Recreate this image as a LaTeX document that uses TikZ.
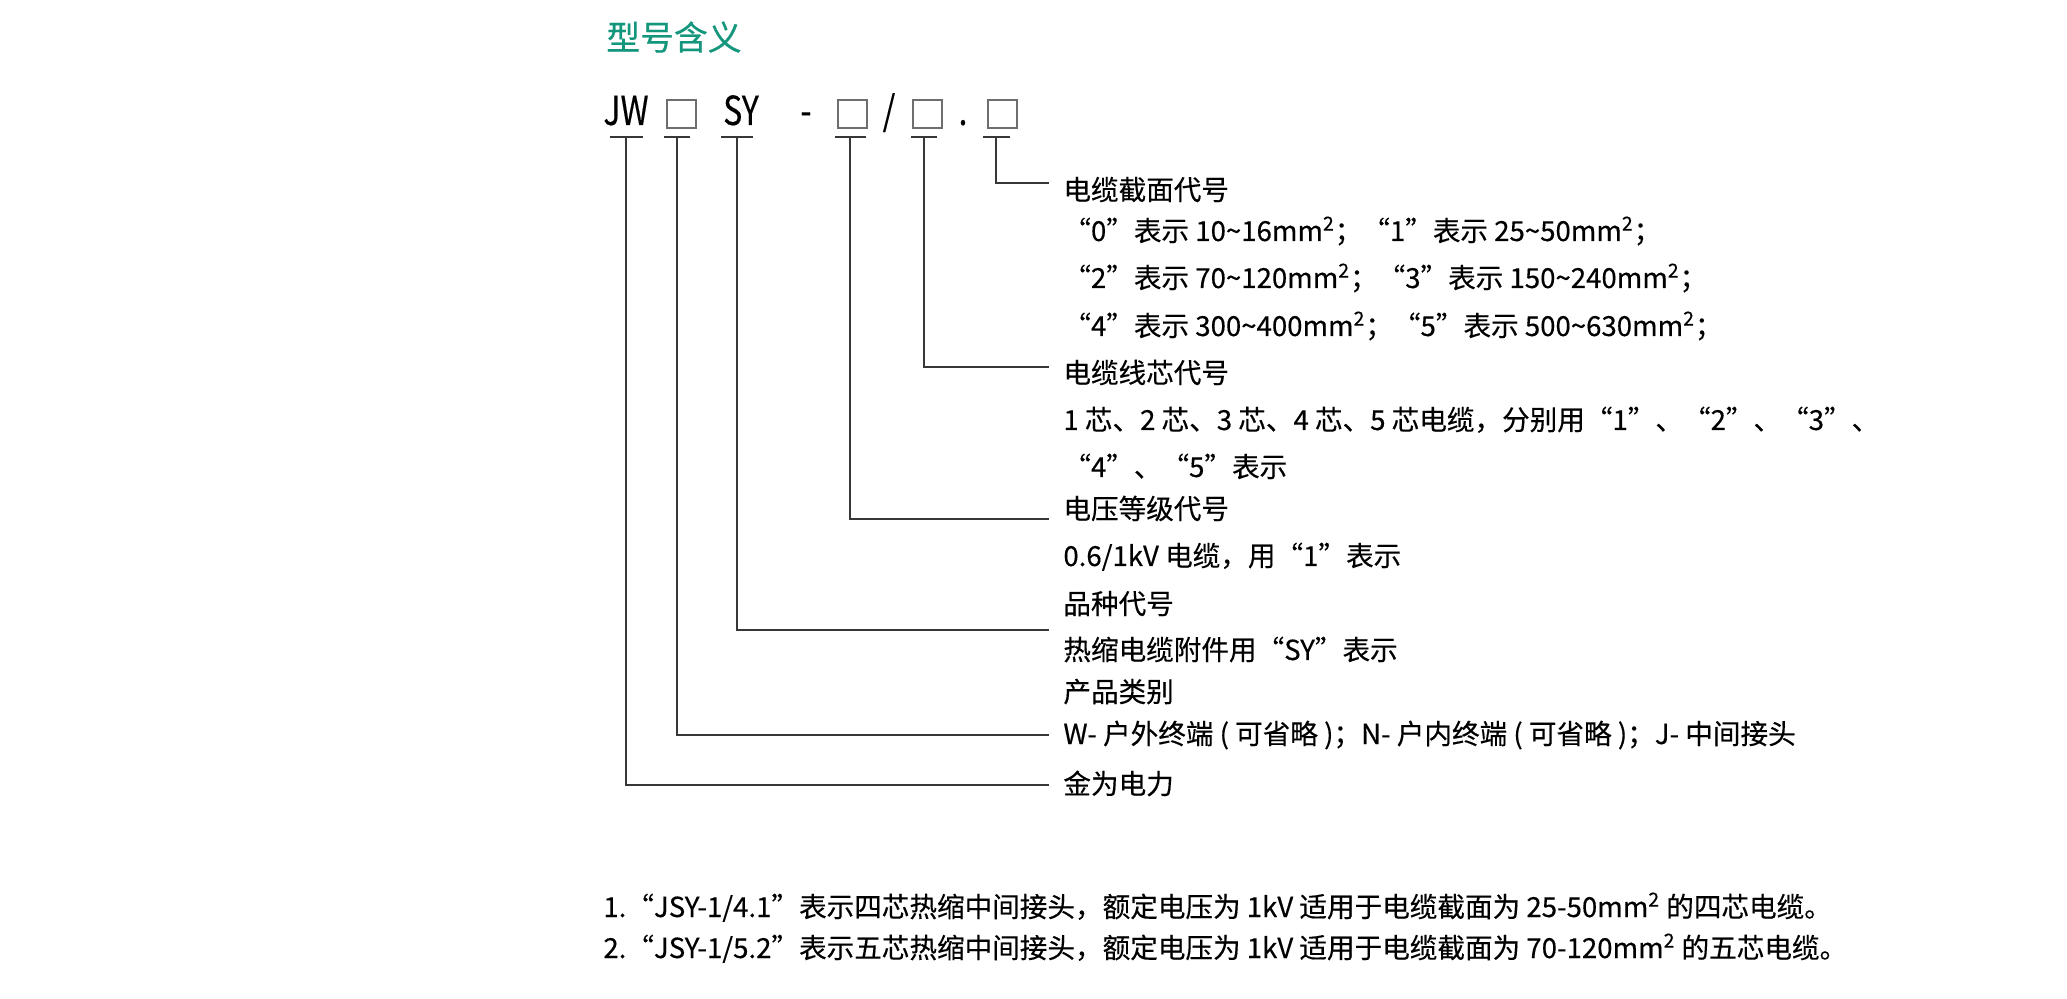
\documentclass[tikz,border=0pt]{standalone}
\usepackage{fontspec}
\setmainfont{Noto Sans CJK SC}[FakeBold=0.35]
\newfontfamily\titlefont{Noto Sans CJK SC}[FakeBold=0.5]
\newfontfamily\codefont{Noto Sans CJK SC}[FakeStretch=0.8,FakeBold=0.3]
\usetikzlibrary{calc}
\definecolor{ttl}{RGB}{20,150,125}
\definecolor{ln}{RGB}{55,55,55}
\definecolor{bx}{RGB}{110,110,110}
\tikzset{
 lbl/.style={anchor=base west, inner sep=0pt, font=\fontsize{13.8pt}{16pt}\selectfont},
 code/.style={anchor=base, inner sep=0pt, font=\codefont\fontsize{20pt}{24pt}\selectfont},
 sq/.style={draw=bx, line width=0.7pt, minimum width=14.5pt, minimum height=14pt, inner sep=0pt},
 lead/.style={draw=ln, line width=0.75pt},
}
\begin{document}
\begin{tikzpicture}[x=0.5pt,y=-0.5pt]
\useasboundingbox (0,0) rectangle (2067,999);
% title
\node[anchor=base west, inner sep=0pt, font=\titlefont\fontsize{16.9pt}{20pt}\selectfont, text=ttl] (title) at (606,50) {型号含义};
% code row
\node[code] (JW) at (626,125) {JW};
\node[sq] (B1) at (681.5,114) {};
\node[code] (SY) at (741,125) {SY};
\node[code] (dash) at (806,125) {-};
\node[sq] (B2) at (852.5,114) {};
\node[code] (slash) at (889,125) {/};
\node[sq] (B3) at (927.5,114) {};
\node[code] (dot) at (963,125) {.};
\node[sq] (B4) at (1002.5,114) {};
% underline anchors
\coordinate (uJW) at (626,137);
\coordinate (uB1) at (677,137);
\coordinate (uSY) at (737,137);
\coordinate (uB2) at (850,137);
\coordinate (uB3) at (924,137);
\coordinate (uB4) at (996,137);
\draw[lead] ($(uJW)+(-16.5,0)$) -- ($(uJW)+(16.5,0)$);
\draw[lead] ($(uB1)+(-13,0)$) -- ($(uB1)+(13,0)$);
\draw[lead] ($(uSY)+(-16,0)$) -- ($(uSY)+(16,0)$);
\draw[lead] ($(uB2)+(-15.5,0)$) -- ($(uB2)+(15.5,0)$);
\draw[lead] ($(uB3)+(-13,0)$) -- ($(uB3)+(13,0)$);
\draw[lead] ($(uB4)+(-13.5,0)$) -- ($(uB4)+(13.5,0)$);
% leader ends
\coordinate (eB4) at (1049,183);
\coordinate (eB3) at (1049,367);
\coordinate (eB2) at (1049,519);
\coordinate (eSY) at (1049,630);
\coordinate (eB1) at (1049,735);
\coordinate (eJW) at (1049,785);
\draw[lead] (uB4) |- (eB4);
\draw[lead] (uB3) |- (eB3);
\draw[lead] (uB2) |- (eB2);
\draw[lead] (uSY) |- (eSY);
\draw[lead] (uB1) |- (eB1);
\draw[lead] (uJW) |- (eJW);
% labels
\node[lbl] (l1) at (1063,200) {电缆截面代号};
\node[lbl] (l2) at (1063,241) {“0”表示 10\textasciitilde16mm\textsuperscript{2}；“1”表示 25\textasciitilde50mm\textsuperscript{2}；};
\node[lbl] (l3) at (1063,288) {“2”表示 70\textasciitilde120mm\textsuperscript{2}；“3”表示 150\textasciitilde240mm\textsuperscript{2}；};
\node[lbl] (l4) at (1063,336) {“4”表示 300\textasciitilde400mm\textsuperscript{2}；“5”表示 500\textasciitilde630mm\textsuperscript{2}；};
\node[lbl] (l5) at (1063,383) {电缆线芯代号};
\node[lbl] (l6) at (1063,430) {1 芯、2 芯、3 芯、4 芯、5 芯电缆，分别用“1”、“2”、“3”、};
\node[lbl] (l7) at (1063,477) {“4”、“5”表示};
\node[lbl] (l8) at (1063,519) {电压等级代号};
\node[lbl] (l9) at (1063,566) {0.6/1kV 电缆，用“1”表示};
\node[lbl] (l10) at (1063,614) {品种代号};
\node[lbl] (l11) at (1063,660) {热缩电缆附件用“SY”表示};
\node[lbl] (l12) at (1063,702) {产品类别};
\node[lbl] (l13) at (1063,744) {W- 户外终端 ( 可省略 )；N- 户内终端 ( 可省略 )；J- 中间接头};
\node[lbl] (l14) at (1063,794) {金为电力};
% notes
\node[lbl] (n1) at (603,917) {1.“JSY-1/4.1”表示四芯热缩中间接头，额定电压为 1kV 适用于电缆截面为 25-50mm\textsuperscript{2} 的四芯电缆。};
\node[lbl] (n2) at (603,958) {2.“JSY-1/5.2”表示五芯热缩中间接头，额定电压为 1kV 适用于电缆截面为 70-120mm\textsuperscript{2} 的五芯电缆。};
\end{tikzpicture}
\end{document}
